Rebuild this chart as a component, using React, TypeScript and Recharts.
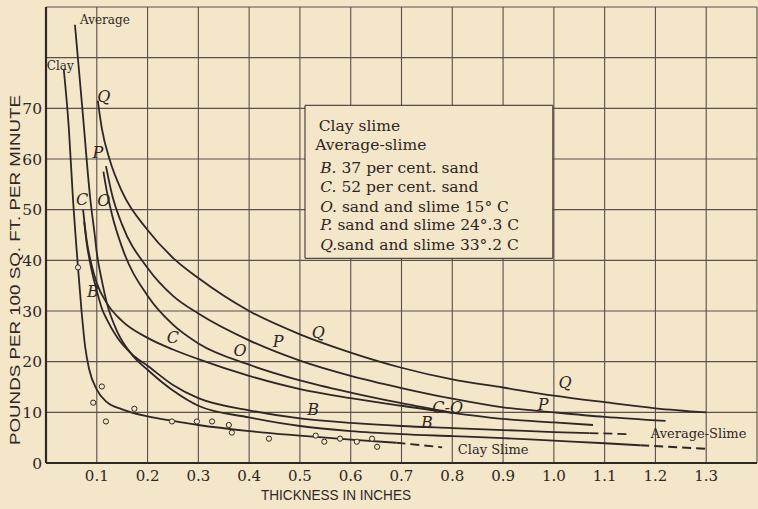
import React from "react";
import {
  ComposedChart,
  Line,
  Scatter,
  XAxis,
  YAxis,
  CartesianGrid,
  ReferenceArea,
  ReferenceDot,
} from "recharts";

const W = 758;
const H = 509;
const BG = "#f3e6c9";
const INK = "#2e2725";
const GRID = "#5a504a";

// thickness (in.) vs pounds per 100 sq. ft. per minute
const clayX = [0.035, 0.045, 0.053, 0.063, 0.07, 0.077, 0.085, 0.1, 0.12, 0.15, 0.2, 0.25, 0.3, 0.4, 0.5, 0.6, 0.69];
const clayY = [77.7, 66, 52.3, 38.6, 30, 23, 18.5, 14.5, 12, 10.6, 9.2, 8.3, 7.5, 6.3, 5.4, 4.6, 4.0];
const clayDashX = [0.69, 0.78];
const clayDashY = [4.0, 3.1];

const avgX = [0.057, 0.072, 0.087, 0.096, 0.1, 0.11, 0.12, 0.14, 0.17, 0.2, 0.25, 0.3, 0.4, 0.5, 0.6, 0.7, 0.8, 0.9, 1.0, 1.1, 1.17];
const avgY = [86.5, 69.5, 52.3, 45, 41.5, 36, 31.5, 26, 21.3, 18.4, 14.3, 11.3, 9.0, 7.3, 6.3, 5.7, 5.3, 4.9, 4.4, 3.9, 3.5];
const avgDashX = [1.17, 1.3];
const avgDashY = [3.5, 2.8];

const bX = [0.075, 0.08, 0.09, 0.1, 0.11, 0.12, 0.14, 0.17, 0.2, 0.25, 0.3, 0.4, 0.5, 0.6, 0.7, 0.8, 0.9, 1.0, 1.07];
const bY = [47.7, 43.5, 38, 34, 30.5, 28.3, 24.8, 21.4, 19.2, 15.4, 12.8, 10.4, 8.8, 7.9, 7.3, 6.9, 6.5, 6.1, 5.9];
const bDashX = [1.07, 1.148];
const bDashY = [5.9, 5.7];

const cX = [0.073, 0.08, 0.09, 0.1, 0.12, 0.15, 0.2, 0.25, 0.3, 0.4, 0.5, 0.6, 0.7, 0.8, 0.9, 1.0, 1.077];
const cY = [50, 44, 39, 35.5, 31.5, 28, 24.7, 22.4, 20.5, 17.2, 14.6, 12.8, 11.3, 9.9, 8.7, 8.0, 7.5];

const oX = [0.113, 0.12, 0.13, 0.15, 0.2, 0.25, 0.3, 0.4, 0.5, 0.6, 0.7, 0.8];
const oY = [57.5, 53.5, 49, 42.5, 33, 27.3, 23.6, 19.4, 16.3, 13.9, 11.8, 9.9];

const pX = [0.118, 0.13, 0.15, 0.2, 0.25, 0.3, 0.4, 0.5, 0.6, 0.7, 0.8, 0.9, 1.0, 1.1, 1.22];
const pY = [58.6, 53, 47, 38.5, 33, 29.5, 24.2, 20.2, 17.2, 14.8, 12.7, 11, 10, 9.1, 8.3];

const qX = [0.102, 0.11, 0.125, 0.15, 0.2, 0.25, 0.3, 0.4, 0.5, 0.6, 0.7, 0.8, 0.9, 1.0, 1.1, 1.2, 1.3];
const qY = [71.5, 66, 60, 53.5, 46, 40.5, 36.5, 30, 25.4, 21.8, 18.8, 16.5, 14.9, 13.3, 12, 10.8, 10];

// observed clay slime points (small circles)
const ptX = [0.063, 0.093, 0.11, 0.118, 0.174, 0.248, 0.297, 0.327, 0.36, 0.366, 0.439, 0.531, 0.548, 0.579, 0.612, 0.642, 0.652];
const ptY = [38.6, 11.9, 15.1, 8.2, 10.7, 8.2, 8.2, 8.2, 7.5, 6.0, 4.8, 5.4, 4.2, 4.8, 4.2, 4.8, 3.2];

const xTicks = [0, 0.1, 0.2, 0.3, 0.4, 0.5, 0.6, 0.7, 0.8, 0.9, 1.0, 1.1, 1.2, 1.3, 1.4];
const yTicks = [0, 10, 20, 30, 40, 50, 60, 70, 80, 90];

const legendLines = [
  { key: "", text: "Clay slime", y: 66.5, x: 0.537 },
  { key: "", text: "Average-slime", y: 62.8, x: 0.53 },
  { key: "B.", text: " 37 per cent. sand", y: 58.2, x: 0.54 },
  { key: "C.", text: " 52 per cent. sand", y: 54.5, x: 0.54 },
  { key: "O.", text: " sand and slime 15° C", y: 50.5, x: 0.54 },
  { key: "P.", text: " sand and slime 24°.3 C", y: 47.0, x: 0.54 },
  { key: "Q.", text: "sand and slime 33°.2 C", y: 43.0, x: 0.54 },
];

// curve letters and names written on the plate
const curveLabels = [
  { text: "Average", x: 0.067, y: 87.4, italic: false, size: 12, anchor: "start" },
  { text: "Clay", x: 0.028, y: 78.3, italic: false, size: 12, anchor: "middle" },
  { text: "Q", x: 0.114, y: 72.4, italic: true, size: 16, anchor: "middle" },
  { text: "P", x: 0.102, y: 61.2, italic: true, size: 16, anchor: "middle" },
  { text: "O", x: 0.114, y: 51.9, italic: true, size: 16, anchor: "middle" },
  { text: "C", x: 0.071, y: 52.1, italic: true, size: 16, anchor: "middle" },
  { text: "B", x: 0.0925, y: 33.9, italic: true, size: 16, anchor: "middle" },
  { text: "C", x: 0.25, y: 24.7, italic: true, size: 16, anchor: "middle" },
  { text: "O", x: 0.382, y: 22.3, italic: true, size: 16, anchor: "middle" },
  { text: "P", x: 0.457, y: 23.9, italic: true, size: 16, anchor: "middle" },
  { text: "Q", x: 0.536, y: 25.7, italic: true, size: 16, anchor: "middle" },
  { text: "B", x: 0.526, y: 10.5, italic: true, size: 16, anchor: "middle" },
  { text: "C-O", x: 0.791, y: 10.9, italic: true, size: 16, anchor: "middle" },
  { text: "B", x: 0.75, y: 7.9, italic: true, size: 16, anchor: "middle" },
  { text: "P", x: 0.979, y: 11.6, italic: true, size: 16, anchor: "middle" },
  { text: "Q", x: 1.022, y: 15.8, italic: true, size: 16, anchor: "middle" },
  { text: "Clay Slime", x: 0.811, y: 2.6, italic: false, size: 13, anchor: "start" },
  { text: "Average-Slime", x: 1.191, y: 5.9, italic: false, size: 13, anchor: "start" },
];

const zip = (xs: number[], ys: number[]) => xs.map((x, i) => ({ x, y: ys[i] }));

const solid = [
  { name: "clay", data: zip(clayX, clayY) },
  { name: "average", data: zip(avgX, avgY) },
  { name: "B", data: zip(bX, bY) },
  { name: "C", data: zip(cX, cY) },
  { name: "O", data: zip(oX, oY) },
  { name: "P", data: zip(pX, pY) },
  { name: "Q", data: zip(qX, qY) },
];
const dashed = [
  { name: "clayDash", data: zip(clayDashX, clayDashY) },
  { name: "avgDash", data: zip(avgDashX, avgDashY) },
  { name: "bDash", data: zip(bDashX, bDashY) },
];
const points = zip(ptX, ptY);

const SERIF = "'DejaVu Serif', 'Liberation Serif', serif";
const SANS = "'Liberation Sans', Arial, sans-serif";

const textShape = (text: string, italic: boolean, size: number, anchor: string) => (props: any) => (
  <text
    x={props.cx}
    y={props.cy}
    textAnchor={anchor}
    dominantBaseline="central"
    fontFamily={SERIF}
    fontStyle={italic ? "italic" : "normal"}
    fontSize={size}
    fill={INK}
  >
    {text}
  </text>
);

const legendShape = (key: string, text: string) => (props: any) => (
  <text x={props.cx} y={props.cy} dominantBaseline="central" fontFamily={SERIF} fontSize={15.5} fill={INK}>
    {key ? <tspan fontStyle="italic">{key}</tspan> : null}
    <tspan>{text}</tspan>
  </text>
);

export default function App() {
  return (
    <div style={{ position: "absolute", left: 0, top: 0, width: W, height: H, background: BG }}>
      <ComposedChart width={W} height={H} margin={{ top: 7, right: 1, bottom: 14, left: 0 }}>
        <CartesianGrid stroke={GRID} strokeWidth={1.1} />
        <XAxis
          type="number"
          dataKey="x"
          domain={[0, 1.4]}
          ticks={xTicks}
          allowDataOverflow
          height={32}
          tickLine={false}
          tickSize={6}
          tickMargin={1}
          axisLine={{ stroke: INK, strokeWidth: 2.2 }}
          tick={{ fill: INK, fontSize: 15, fontFamily: SERIF }}
          tickFormatter={(v: number) => (v > 0.05 && v < 1.35 ? v.toFixed(1) : "")}
          label={() => (
            <text x={336} y={494} textAnchor="middle" dominantBaseline="central" fontFamily={SANS} fontSize={15} fill={INK} textLength={150} lengthAdjust="spacingAndGlyphs">
              THICKNESS IN INCHES
            </text>
          )}
        />
        <YAxis
          type="number"
          domain={[0, 90]}
          ticks={yTicks}
          allowDataOverflow
          width={46}
          tickLine={false}
          tickSize={3}
          tickMargin={1}
          axisLine={{ stroke: INK, strokeWidth: 2.2 }}
          tick={{ fill: INK, fontSize: 15.5, fontFamily: SERIF }}
          tickFormatter={(v: number) => (v <= 70 ? String(v) : "")}
          label={() => (
            <text
              x={15}
              y={270}
              transform="rotate(-90 15 270)"
              textAnchor="middle"
              dominantBaseline="central"
              fontFamily={SANS}
              fontSize={14}
              fill={INK}
              textLength={350}
              lengthAdjust="spacingAndGlyphs"
            >
              POUNDS PER 100 SQ. FT. PER MINUTE
            </text>
          )}
        />
        <ReferenceArea x1={0.51} x2={0.998} y1={40.4} y2={70.6} fill={BG} fillOpacity={1} stroke={INK} strokeWidth={1} />
        {legendLines.map((l, i) => (
          <ReferenceDot key={"lg" + i} x={l.x} y={l.y} r={0} shape={legendShape(l.key, l.text)} />
        ))}
        {solid.map((s) => (
          <Line
            key={s.name}
            data={s.data}
            dataKey="y"
            type="monotone"
            stroke={INK}
            strokeWidth={1.8}
            dot={false}
            activeDot={false}
            isAnimationActive={false}
          />
        ))}
        {dashed.map((s) => (
          <Line
            key={s.name}
            data={s.data}
            dataKey="y"
            type="linear"
            stroke={INK}
            strokeWidth={1.8}
            strokeDasharray="9 5"
            dot={false}
            activeDot={false}
            isAnimationActive={false}
          />
        ))}
        <Scatter
          data={points}
          dataKey="y"
          isAnimationActive={false}
          shape={(p: any) => <circle cx={p.cx} cy={p.cy} r={2.6} fill={BG} stroke={INK} strokeWidth={1} />}
        />
        {curveLabels.map((l, i) => (
          <ReferenceDot key={"cl" + i} x={l.x} y={l.y} r={0} shape={textShape(l.text, l.italic, l.size, l.anchor)} />
        ))}
      </ComposedChart>
    </div>
  );
}
